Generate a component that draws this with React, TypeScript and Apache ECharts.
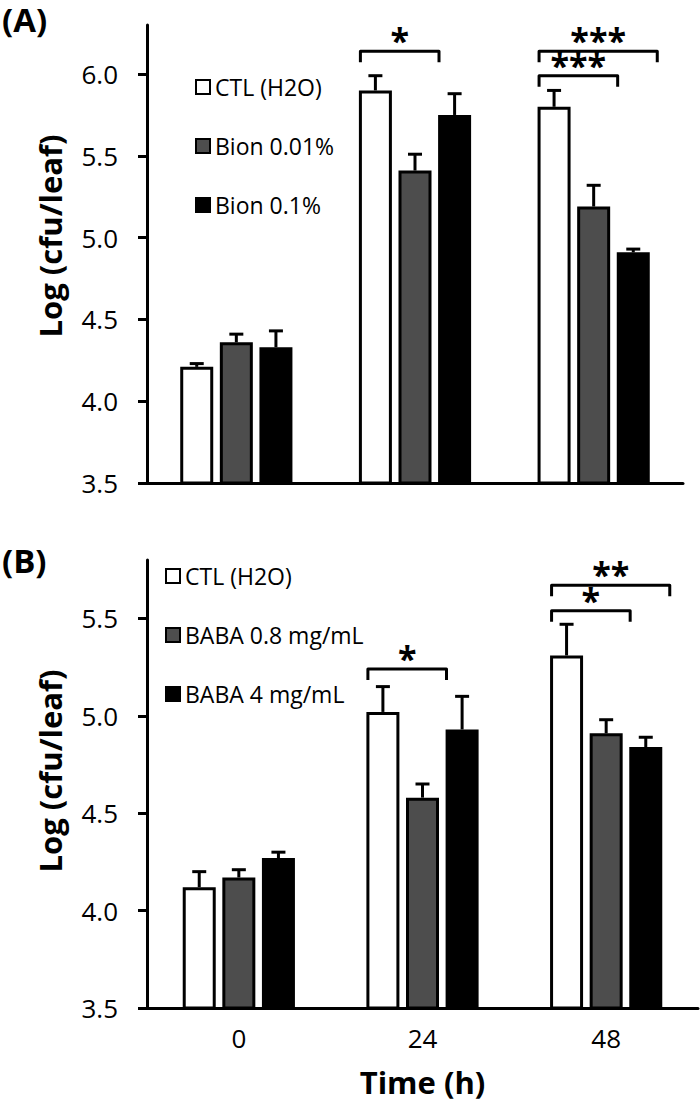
import React, { useEffect, useRef } from "react";
import * as echarts from "echarts";

const categories = ["0", "24", "48"];
const yTicksA = [3.5, 4.0, 4.5, 5.0, 5.5, 6.0];
const yTicksB = [3.5, 4.0, 4.5, 5.0, 5.5];

// Panel A (Bion)
const namesA = ["CTL (H2O)", "Bion 0.01%", "Bion 0.1%"];
const ctlA = [4.21, 5.9, 5.8];
const ctlAErr = [0.02, 0.09, 0.1];
const bion001 = [4.36, 5.41, 5.19];
const bion001Err = [0.05, 0.1, 0.13];
const bion01 = [4.33, 5.75, 4.91];
const bion01Err = [0.1, 0.13, 0.02];

// Panel B (BABA)
const namesB = ["CTL (H2O)", "BABA 0.8 mg/mL", "BABA 4 mg/mL"];
const ctlB = [4.12, 5.02, 5.31];
const ctlBErr = [0.08, 0.13, 0.16];
const baba08 = [4.17, 4.58, 4.91];
const baba08Err = [0.04, 0.07, 0.07];
const baba4 = [4.27, 4.93, 4.84];
const baba4Err = [0.03, 0.17, 0.05];

// significance brackets: [category index, from series, to series, bracket y value]
const sigA = [
  [1, 0, 1, 6.14],
  [2, 0, 2, 6.14],
  [2, 0, 1, 5.99],
];
const sigALabels = ["*", "***", "***"];
const sigB = [
  [1, 0, 1, 5.24],
  [2, 0, 2, 5.67],
  [2, 0, 1, 5.54],
];
const sigBLabels = ["*", "**", "*"];

const FONT = '"Open Sans", sans-serif';
const STEP = 39.6; // bar width 33 + 20% gap
const fills = ["#ffffff", "#4d4d4d", "#000000"];

function errRender(slot: number) {
  return (params: any, api: any) => {
    const c = api.value(0);
    const v = api.value(1);
    const e = api.value(2);
    const base = api.coord([c, v]);
    const top = api.coord([c, v + e]);
    const x = base[0] + (slot - 1) * STEP;
    return {
      type: "group",
      children: [
        { type: "line", shape: { x1: x, y1: base[1], x2: x, y2: top[1] }, style: { stroke: "#000", lineWidth: 3 } },
        { type: "line", shape: { x1: x - 7, y1: top[1], x2: x + 7, y2: top[1] }, style: { stroke: "#000", lineWidth: 3 } },
      ],
    };
  };
}

function sigRender(labels: string[]) {
  return (params: any, api: any) => {
    const c = api.value(0);
    const from = api.value(1);
    const to = api.value(2);
    const y = api.value(3);
    const p = api.coord([c, y]);
    const x1 = p[0] + (from - 1) * STEP - 15;
    const x2 = p[0] + (to - 1) * STEP + 24;
    const yl = p[1];
    const leg = 11;
    return {
      type: "group",
      children: [
        {
          type: "polyline",
          shape: { points: [[x1, yl + leg], [x1, yl], [x2, yl], [x2, yl + leg]] },
          style: { stroke: "#000", fill: null, lineWidth: 3, lineJoin: "round" },
        },
        {
          type: "text",
          style: {
            text: labels[params.dataIndex],
            x: (x1 + x2) / 2,
            y: yl + 6,
            align: "center",
            verticalAlign: "bottom",
            font: `bold 34px ${FONT}`,
            fill: "#000",
          },
        },
      ],
    };
  };
}

function barSeries(name: string, data: number[], idx: number, grid: number) {
  return {
    type: "bar",
    name,
    xAxisIndex: grid,
    yAxisIndex: grid,
    data,
    barWidth: 33,
    barGap: "20%",
    itemStyle: { color: fills[idx], borderColor: "#000", borderWidth: 3 },
    z: 2,
  };
}

function errSeries(vals: number[], errs: number[], slot: number, grid: number) {
  return {
    type: "custom",
    xAxisIndex: grid,
    yAxisIndex: grid,
    renderItem: errRender(slot),
    data: vals.map((v, i) => [i, v, errs[i]]),
    encode: { x: 0, y: 1 },
    z: 3,
    silent: true,
  };
}

function sigSeries(sig: number[][], labels: string[], grid: number) {
  return {
    type: "custom",
    xAxisIndex: grid,
    yAxisIndex: grid,
    renderItem: sigRender(labels),
    data: sig,
    encode: { x: 0, y: 3 },
    z: 4,
    silent: true,
  };
}

const axisLineStyle = { color: "#000", width: 3 };

export default function App() {
  const ref = useRef<HTMLDivElement>(null);
  useEffect(() => {
    document.body.style.margin = "0";
    const chart = echarts.init(ref.current!, null, { renderer: "svg" });
    const legendCommon = {
      orient: "vertical",
      itemWidth: 14,
      itemHeight: 14,
      itemGap: 35,
      icon: "rect",
      selectedMode: false,
      textStyle: { fontSize: 23, fontFamily: FONT, color: "#000", lineHeight: 24 },
      itemStyle: { borderColor: "#000", borderWidth: 2 },
    };
    const option: any = {
      animation: false,
      backgroundColor: "#fff",
      textStyle: { fontFamily: FONT },
      grid: [
        { left: 147, right: 17, top: 25, bottom: 623 },
        { left: 147, right: 2, top: 560, bottom: 98 },
      ],
      legend: [
        { ...legendCommon, data: namesA, left: 190, top: 70 },
        { ...legendCommon, data: namesB, left: 160, top: 559 },
      ],
      xAxis: [
        {
          gridIndex: 0,
          type: "category",
          data: categories,
          axisLine: { lineStyle: axisLineStyle },
          axisTick: { length: 10, lineStyle: axisLineStyle },
          axisLabel: { show: false },
        },
        {
          gridIndex: 1,
          type: "category",
          data: categories,
          axisLine: { lineStyle: axisLineStyle },
          axisTick: { length: 10, lineStyle: axisLineStyle },
          axisLabel: { fontSize: 26, color: "#000", margin: 17, fontFamily: FONT },
          name: "Time (h)",
          nameLocation: "middle",
          nameGap: 58,
          nameTextStyle: { fontSize: 31, fontWeight: "bold", color: "#000", fontFamily: FONT },
        },
      ],
      yAxis: [
        {
          gridIndex: 0,
          type: "value",
          min: 3.5,
          max: 6.3,
          interval: 0.5,
          splitLine: { show: false },
          axisLine: { show: true, lineStyle: axisLineStyle },
          axisTick: { show: true, length: 9, lineStyle: axisLineStyle, customValues: yTicksA },
          axisLabel: {
            customValues: yTicksA,
            formatter: (v: number) => v.toFixed(1),
            fontSize: 26,
            color: "#000",
            margin: 29,
            fontFamily: FONT,
          },
        },
        {
          gridIndex: 1,
          type: "value",
          min: 3.5,
          max: 5.8,
          interval: 0.5,
          splitLine: { show: false },
          axisLine: { show: true, lineStyle: axisLineStyle },
          axisTick: { show: true, length: 9, lineStyle: axisLineStyle, customValues: yTicksB },
          axisLabel: {
            customValues: yTicksB,
            formatter: (v: number) => v.toFixed(1),
            fontSize: 26,
            color: "#000",
            margin: 29,
            fontFamily: FONT,
          },
        },
      ],
      graphic: [
        { type: "text", left: 2, top: 3, style: { text: "(A)", font: `bold 33px ${FONT}`, fill: "#000" } },
        { type: "text", left: 2, top: 544, style: { text: "(B)", font: `bold 33px ${FONT}`, fill: "#000" } },
        {
          type: "text",
          x: 50,
          y: 236,
          rotation: Math.PI / 2,
          style: { text: "Log (cfu/leaf)", font: `bold 31px ${FONT}`, fill: "#000", align: "center", verticalAlign: "middle" },
        },
        {
          type: "text",
          x: 50,
          y: 771,
          rotation: Math.PI / 2,
          style: { text: "Log (cfu/leaf)", font: `bold 31px ${FONT}`, fill: "#000", align: "center", verticalAlign: "middle" },
        },
      ],
      series: [
        barSeries(namesA[0], ctlA, 0, 0),
        barSeries(namesA[1], bion001, 1, 0),
        barSeries(namesA[2], bion01, 2, 0),
        errSeries(ctlA, ctlAErr, 0, 0),
        errSeries(bion001, bion001Err, 1, 0),
        errSeries(bion01, bion01Err, 2, 0),
        sigSeries(sigA, sigALabels, 0),
        barSeries(namesB[0], ctlB, 0, 1),
        barSeries(namesB[1], baba08, 1, 1),
        barSeries(namesB[2], baba4, 2, 1),
        errSeries(ctlB, ctlBErr, 0, 1),
        errSeries(baba08, baba08Err, 1, 1),
        errSeries(baba4, baba4Err, 2, 1),
        sigSeries(sigB, sigBLabels, 1),
      ],
    };
    chart.setOption(option);
    return () => chart.dispose();
  }, []);
  return <div ref={ref} style={{ width: 700, height: 1106 }} />;
}
